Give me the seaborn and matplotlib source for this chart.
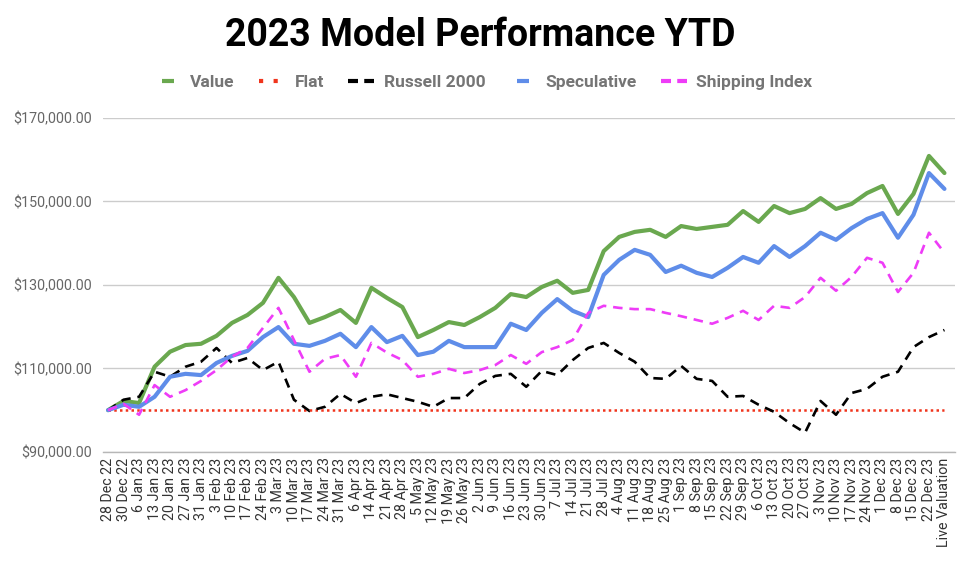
import numpy as np
import pandas as pd
import matplotlib
matplotlib.use("Agg")
import matplotlib.pyplot as plt
from matplotlib.lines import Line2D
from matplotlib.legend_handler import HandlerLine2D
import seaborn as sns

# -------------------------- data --------------------------
dates = [
    "28 Dec 22", "30 Dec 22", "6 Jan 23", "13 Jan 23", "20 Jan 23", "27 Jan 23", "31 Jan 23",
    "3 Feb 23", "10 Feb 23", "17 Feb 23", "24 Feb 23", "3 Mar 23", "10 Mar 23", "17 Mar 23",
    "24 Mar 23", "31 Mar 23", "6 Apr 23", "14 Apr 23", "21 Apr 23", "28 Apr 23", "5 May 23",
    "12 May 23", "19 May 23", "26 May 23", "2 Jun 23", "9 Jun 23", "16 Jun 23", "23 Jun 23",
    "30 Jun 23", "7 Jul 23", "14 Jul 23", "21 Jul 23", "28 Jul 23", "4 Aug 23", "11 Aug 23",
    "18 Aug 23", "25 Aug 23", "1 Sep 23", "8 Sep 23", "15 Sep 23", "22 Sep 23", "29 Sep 23",
    "6 Oct 23", "13 Oct 23", "20 Oct 23", "27 Oct 23", "3 Nov 23", "10 Nov 23", "17 Nov 23",
    "24 Nov 23", "1 Dec 23", "8 Dec 23", "15 Dec 23", "22 Dec 23", "Live Valuation",
]

value = [
    100000, 102200, 101700, 110400, 114000, 115600, 115900, 117800, 120900, 122800,
    125700, 131700, 127100, 120900, 122300, 124000, 120900, 129300, 126900, 124700,
    117500, 119200, 121100, 120400, 122300, 124500, 127800, 127100, 129500, 131000,
    128100, 128800, 138100, 141500, 142700, 143200, 141500, 144100, 143400, 143900,
    144400, 147700, 145100, 148900, 147200, 148200, 150800, 148200, 149400, 152000,
    153700, 147000, 151800, 160900, 156800,
]

flat = [100000] * len(dates)

russell = [
    100000, 102500, 103200, 109200, 108000, 110400, 111600, 114900, 111300, 112500,
    109600, 111600, 102500, 99800, 100800, 103900, 101700, 103200, 103800, 102900,
    102000, 100800, 102900, 102900, 106300, 108200, 108700, 105600, 109400, 108400,
    112000, 114900, 116100, 113700, 111600, 107700, 107500, 110600, 107500, 107000,
    103200, 103400, 101300, 99600, 96900, 94600, 102200, 98900, 104100, 105100,
    108000, 109200, 115100, 117500, 119200,
]

speculative = [
    100000, 101300, 100800, 103200, 108000, 108700, 108400, 111300, 113000, 114200,
    117500, 119900, 115900, 115400, 116600, 118300, 115100, 119900, 116300, 117800,
    113200, 114000, 116600, 115100, 115100, 115100, 120700, 119200, 123300, 126600,
    123800, 122300, 132400, 136000, 138400, 137200, 133100, 134600, 132900, 131900,
    134100, 136700, 135300, 139300, 136700, 139300, 142500, 140800, 143600, 145800,
    147200, 141300, 146800, 156800, 153000,
]

shipping = [
    100000, 101500, 98900, 106000, 103200, 104800, 107000, 109600, 112800, 114900,
    119700, 124500, 116800, 109200, 112300, 113200, 108000, 116100, 113800, 112000,
    108000, 108700, 109900, 108900, 109600, 110800, 113200, 111100, 113900, 115100,
    116800, 123300, 125000, 124500, 124200, 124200, 123300, 122500, 121600, 120700,
    122100, 123800, 121600, 125000, 124500, 127100, 131700, 128600, 131900, 136500,
    135300, 128300, 132900, 142500, 137700,
]

y_ticks = [90000, 110000, 130000, 150000, 170000]

# -------------------------- style --------------------------
# name, values, colour, line width, line style, legend dash pattern
series = [
    ("Value", value, "#6aa84f", 3.0, "-", None),
    ("Flat", flat, "#f0341c", 1.8, (0, (1, 1.3)), (0, (1, 2.5))),
    ("Russell 2000", russell, "#000000", 1.9, (0, (3.6, 2.6)), (0, (2.4, 1.5))),
    ("Speculative", speculative, "#5f8de9", 3.0, "-", None),
    ("Shipping Index", shipping, "#ee3cf7", 1.9, (0, (3.6, 2.6)), (0, (2.4, 1.5))),
]

sns.set_theme(style="white")
plt.rcParams['font.family'] = ['Roboto', 'DejaVu Sans']

fig = plt.figure(figsize=(9.73, 5.67), dpi=100)
ax = fig.add_axes([0.106, 0.203, 0.875, 0.589])

x = np.arange(len(dates))
for name, vals, color, lw, ls, _ in series:
    df = pd.DataFrame({"x": x, "y": vals})
    sns.lineplot(data=df, x="x", y="y", ax=ax, color=color, linewidth=lw,
                 linestyle=ls, legend=False)

ax.set_xlim(-0.32, len(dates) - 1 + 0.65)
ax.set_ylim(90000, 170000)
ax.set_yticks(y_ticks)
ax.set_yticklabels([f"${v:,.2f}" for v in y_ticks], fontsize=10.3, color="#666666")
ax.set_xticks(x)
ax.set_xticklabels(dates, rotation=90, fontsize=10.3, color="#333333")
ax.tick_params(axis="x", length=0, pad=4)
ax.tick_params(axis="y", length=0, pad=8)
ax.set_xlabel("")
ax.set_ylabel("")

ax.grid(axis="y", color="#cccccc", linewidth=1)
ax.grid(axis="x", visible=False)
for side in ["top", "right", "left"]:
    ax.spines[side].set_visible(False)
ax.spines["bottom"].set_color("#b7b7b7")
ax.spines["bottom"].set_linewidth(1)

fig.text(0.494, 0.938, "2023 Model Performance YTD", ha="center", va="center",
         fontsize=27, fontweight="bold", color="#000000")

# legend: short bars for solid lines, two dashes / two dots for the others
handles = []
handler_map = {}
for name, vals, color, lw, ls, leg_ls in series:
    if leg_ls is None:
        h = Line2D([], [], color=color, linewidth=3, solid_capstyle="butt")
        handler_map[h] = HandlerLine2D(numpoints=2, marker_pad=0.4)
    else:
        h = Line2D([], [], color=color, linewidth=3, linestyle=leg_ls,
                   dash_capstyle="butt")
    handles.append(h)

leg = ax.legend(handles, [s[0] for s in series], handler_map=handler_map,
                loc="center", bbox_to_anchor=(0.497, 0.855),
                bbox_transform=fig.transFigure, ncol=5, frameon=False,
                handlelength=1.5, handletextpad=0.55, columnspacing=1.4,
                prop={"size": 12.5, "weight": "bold"})
for t in leg.get_texts():
    t.set_color("#757575")

fig.savefig("out.png", dpi=100)
